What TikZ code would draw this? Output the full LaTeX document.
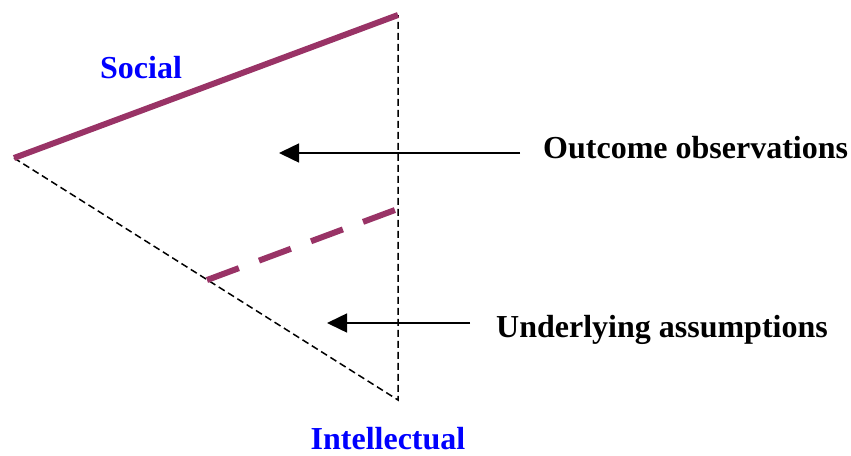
\documentclass[tikz,border=0pt]{standalone}
\usepackage{fontspec}
\setmainfont{Liberation Serif}
\usetikzlibrary{arrows.meta, positioning}
\definecolor{plum}{HTML}{993366}

\begin{document}
\begin{tikzpicture}[x=1pt, y=-1pt, >={Triangle[length=20pt,width=19pt]},
    side/.style={line width=6pt, plum},
    guide/.style={line width=1.5pt, dash pattern=on 7pt off 4pt},
    lbl/.style={font=\fontsize{32}{36}\selectfont\bfseries, inner sep=0pt},
    corner/.style={lbl, blue}]
  \useasboundingbox (0,0) rectangle (851,455);
  \coordinate (left) at (14,158);
  \coordinate (top) at (398,15);
  \coordinate (bottom) at (398,400);
  \coordinate (mid) at (207,280);
  \coordinate (midr) at (395,210);
  \draw[guide] (left) -- (bottom) -- (top);
  \draw[side] (left) -- (top);
  \draw[side, dash pattern=on 34pt off 21.5pt] (mid) -- (midr);
  \node[corner] (social) at (141,68) {Social};
  \node[corner] (intel) at (388,439) {Intellectual};
  \node[lbl, anchor=west] (outcome) at (543,148) {Outcome observations};
  \node[lbl, anchor=west] (under) at (496,330) {Underlying assumptions};
  \coordinate (outtip) at (279,153);
  \coordinate (undtip) at (327,323);
  \draw[->, line width=1.5pt] (520,153) coordinate (outtail) -- (outtip);
  \draw[->, line width=1.5pt] (470,323) coordinate (undtail) -- (undtip);
\end{tikzpicture}
\end{document}
